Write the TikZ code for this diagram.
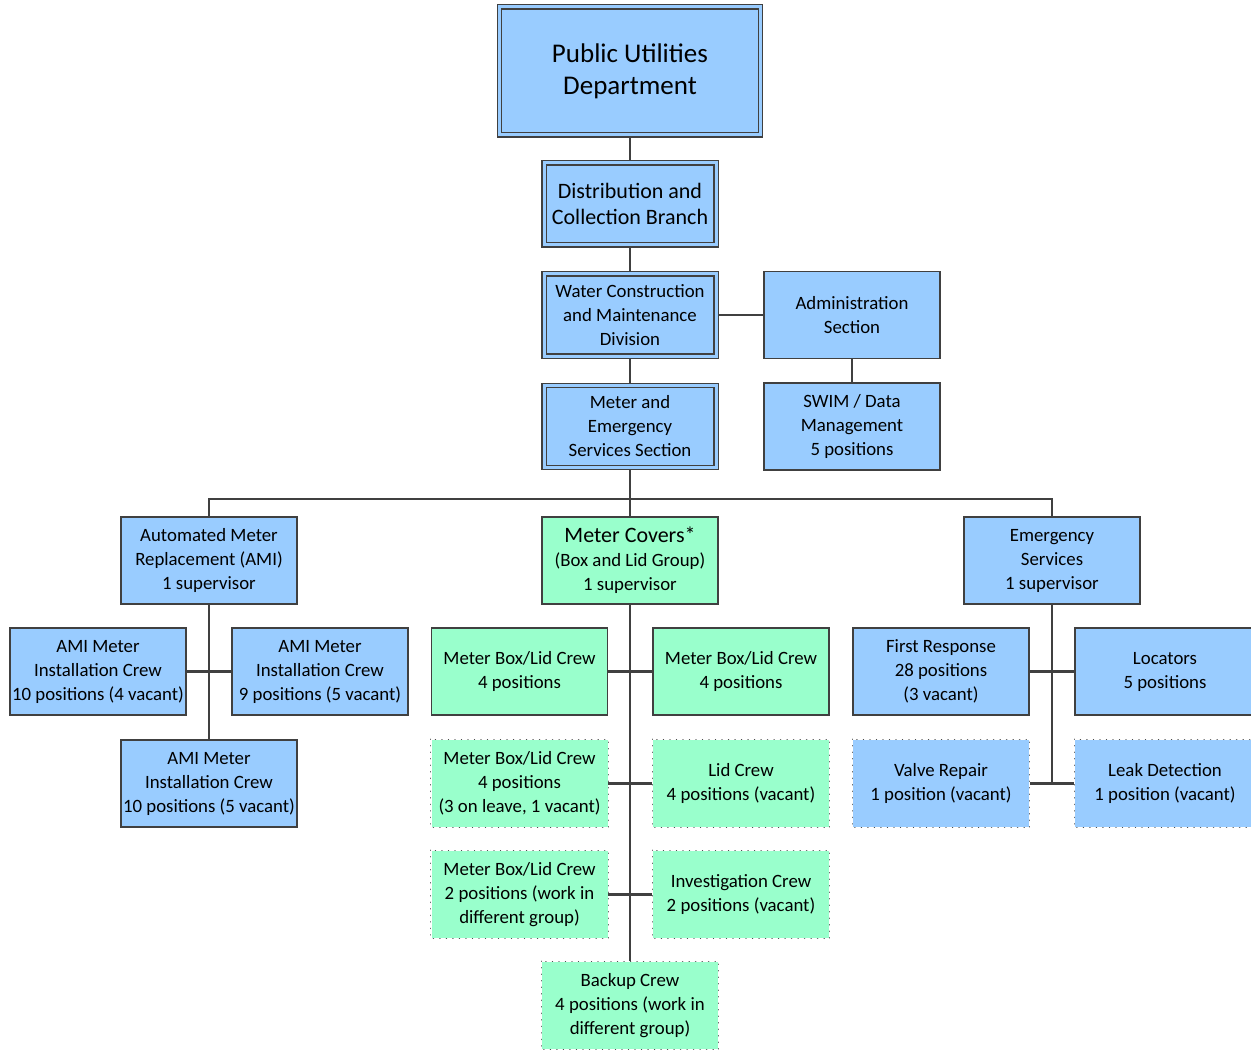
\documentclass[tikz,border=0pt]{standalone}
\usepackage{fontspec}
\setmainfont{Carlito}
\usetikzlibrary{backgrounds}
\definecolor{boxblue}{RGB}{153,204,255}
\definecolor{boxgreen}{RGB}{153,255,204}
\definecolor{bord}{RGB}{64,64,64}
\definecolor{dotc}{RGB}{80,80,80}
\newcommand\fsBig{\fontsize{27}{32}\selectfont}
\newcommand\fsMid{\fontsize{22}{26}\selectfont}
\newcommand\fsNorm{\fontsize{18.8}{24}\selectfont}
\tikzset{
  box/.style={draw=bord, line width=1.5pt, minimum width=176pt, minimum height=87pt,
    inner sep=0pt, align=center, font=\fsNorm, fill=boxblue},
  dblbox/.style={box, double=boxblue, double distance=3pt, line width=1.2pt,
    minimum width=172pt, minimum height=82pt},
  greenbox/.style={box, fill=boxgreen},
  dotbox/.style={draw=dotc, line width=1.4pt, dash pattern=on 0.01pt off 6.5pt, line cap=round},
  conn/.style={draw=bord, line width=2.8pt}
}
\begin{document}
\begin{tikzpicture}[x=1pt,y=-1pt]
\useasboundingbox (0,0) rectangle (1251,1051);
% top hierarchy
\node[dblbox, minimum width=261pt, minimum height=128pt, font=\fsBig] (pud) at (630,71) {Public Utilities\\Department};
\node[dblbox, font=\fsMid] (dist) at (630,204) {Distribution and\\Collection Branch};
\node[dblbox] (wcm) at (630,315) {Water Construction\\and Maintenance\\Division};
\node[dblbox] (mes) at (630,426.5) {Meter and\\Emergency\\Services Section};
\node[box] (admin) at (852,315) {Administration\\Section};
\node[box] (swim) at (852,426.5) {SWIM / Data\\Management\\5 positions};
% second level
\node[box] (ami) at (209,560.5) {Automated Meter\\Replacement (AMI)\\1 supervisor};
\node[greenbox] (mc) at (630,560.5) {{\fontsize{22}{26}\selectfont Meter Covers*}\\(Box and Lid Group)\\1 supervisor};
\node[box] (es) at (1052,560.5) {Emergency\\Services\\1 supervisor};
% AMI crews
\node[box] (c1) at (98,671.5) {AMI Meter\\Installation Crew\\10 positions (4 vacant)};
\node[box] (c2) at (320,671.5) {AMI Meter\\Installation Crew\\9 positions (5 vacant)};
\node[box] (c3) at (209,783.5) {AMI Meter\\Installation Crew\\10 positions (5 vacant)};
% Meter covers crews
\node[greenbox] (g1) at (519.5,671.5) {Meter Box/Lid Crew\\4 positions};
\node[greenbox] (g2) at (741,671.5) {Meter Box/Lid Crew\\4 positions};
\node[greenbox, draw=none] (g3) at (519.5,783.5) {Meter Box/Lid Crew\\4 positions\\(3 on leave, 1 vacant)};
\node[greenbox, draw=none] (g4) at (741,783.5) {Lid Crew\\4 positions (vacant)};
\node[greenbox, draw=none] (g5) at (519.5,894.5) {Meter Box/Lid Crew\\2 positions (work in\\different group)};
\node[greenbox, draw=none] (g6) at (741,894.5) {Investigation Crew\\2 positions (vacant)};
\node[greenbox, draw=none] (g7) at (630,1005.5) {Backup Crew\\4 positions (work in\\different group)};
% Emergency crews
\node[box] (e1) at (941,671.5) {First Response\\28 positions\\(3 vacant)};
\node[box, minimum width=180pt] (e2) at (1165,671.5) {Locators\\5 positions};
\node[box, draw=none] (e3) at (941,783.5) {Valve Repair\\1 position (vacant)};
\node[box, draw=none, minimum width=180pt] (e4) at (1165,783.5) {Leak Detection\\1 position (vacant)};
% dotted borders
\foreach \n in {g3,g4,g5,g6,g7,e3,e4}{
  \draw[dotbox] (\n.north west) rectangle (\n.south east);
}
\coordinate (bus) at (630,499);
\begin{scope}[on background layer]
\draw[conn] (pud.south) -- (dist.north);
\draw[conn] (dist.south) -- (wcm.north);
\draw[conn] (wcm.south) -- (mes.north);
\draw[conn] (wcm.east) -- (admin.west);
\draw[conn] (admin.south) -- (swim.north);
\draw[conn] (mes.south) -- (mc.north);
\draw[conn] (ami.north) |- (bus) -| (es.north);
\draw[conn] (ami.south) -- (c3.north);
\draw[conn] (c1.east) -- (c2.west);
\draw[conn] (mc.south) -- (g7.north);
\draw[conn] (g1.east) -- (g2.west);
\draw[conn] (g3.east) -- (g4.west);
\draw[conn] (g5.east) -- (g6.west);
\draw[conn] (es.south) -- (es.south |- e3.east);
\draw[conn] (e1.east) -- (e2.west);
\draw[conn] (e3.east) -- (e4.west);
\end{scope}
\end{tikzpicture}
\end{document}
